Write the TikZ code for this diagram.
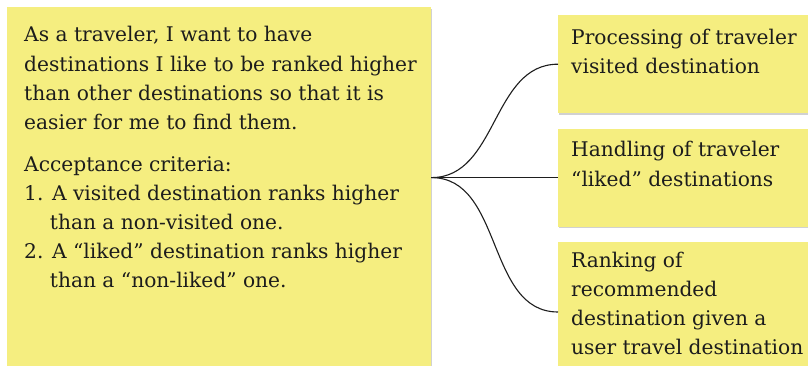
\documentclass[tikz,border=0pt]{standalone}
\usepackage{fontspec}
\setmainfont{DejaVu Serif}
\usetikzlibrary{positioning,shadows}
\definecolor{stickyyellow}{HTML}{F5EE80}
\definecolor{inkgray}{HTML}{1C1C1C}
\definecolor{branchgray}{HTML}{1E1E1E}
\tikzset{
	sticky/.style={fill=stickyyellow, draw=none, inner sep=0pt,
		drop shadow={shadow xshift=1pt, shadow yshift=-1.5pt, fill=black, opacity=0.18}},
	note/.style={anchor=base west, align=left, inner sep=0pt, text=inkgray,
		font=\fontsize{20.2}{29}\selectfont},
	branch/.style={draw=branchgray, line width=1.1pt}
}
\newcommand{\itemgap}{\hphantom{1.~}}

\begin{document}
\begin{tikzpicture}[x=1pt,y=-1pt]
	% Fixed canvas, the sticky notes run off the bottom and right edges.
	\useasboundingbox (0,0) rectangle (808,366);
	\fill[white] (0,0) rectangle (808,366);
	\clip (0,0) rectangle (808,366);

	% User story note on the left.
	\node[sticky, anchor=north west, minimum width=424pt, minimum height=380pt] (story) at (7,7) {};
	% (the anchor is the baseline of the last line)
	\node[note] (storytext) at (24,287)
		{As a traveler, I want to have\\
		destinations I like to be ranked higher\\
		than other destinations so that it is\\
		easier for me to find them.\\[13pt]
		Acceptance criteria:\\
		1. A visited destination ranks higher\\
		\itemgap than a non-visited one.\\
		2. A “liked” destination ranks higher\\
		\itemgap than a “non-liked” one.};

	% Task notes on the right.
	\node[sticky, anchor=north west, minimum width=260pt, minimum height=98pt] (proc) at (558,15) {};
	\node[sticky, minimum width=260pt, minimum height=98pt, below=15pt of proc.south west, anchor=north west] (like) {};
	\node[sticky, minimum width=260pt, minimum height=140pt, below=15pt of like.south west, anchor=north west] (rank) {};

	\node[note] (proctext) at (571,74)
		{Processing of traveler\\visited destination};
	\node[note] (liketext) at (571,186)
		{Handling of traveler\\“liked” destinations};
	\node[note] (ranktext) at (571,354)
		{Ranking of\\recommended\\destination given a\\user travel destination};

	% Branches from the story to each task.
	\coordinate (fork) at (story.east |- like.west);
	\draw[branch] (fork) to[out=0, in=180] (proc.west);
	\draw[branch] (fork) -- (like.west);
	\draw[branch] (fork) to[out=0, in=180] (rank.west);
\end{tikzpicture}
\end{document}
